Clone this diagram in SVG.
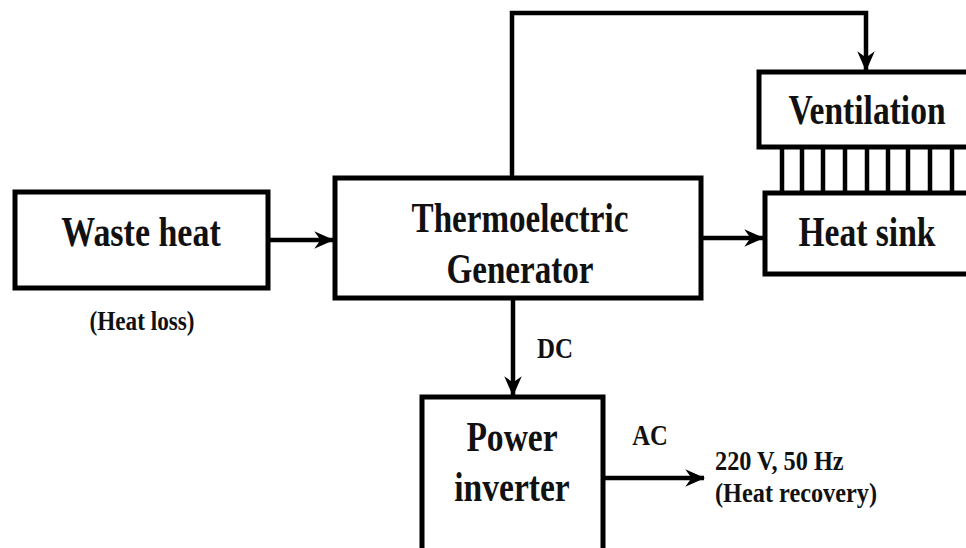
<svg xmlns="http://www.w3.org/2000/svg" width="966" height="548" viewBox="0 0 966 548">
<style>
.box{fill:#fff;stroke:#000;stroke-width:5}
.ln{fill:none;stroke:#000;stroke-width:4.5}
.fin{stroke:#000;stroke-width:4.5}
.t{font-family:"Liberation Serif","Times New Roman",serif;font-weight:bold;fill:#111;text-anchor:middle}
.big{font-size:43px}
.mid{font-size:29px}
.sm{font-size:27px}
</style>
<defs>
<marker id="ah" viewBox="0 0 16 16" refX="15" refY="8" markerWidth="20" markerHeight="20" markerUnits="userSpaceOnUse" orient="auto">
<path d="M0,1 L16,8 L0,15 L5,8 Z" fill="#000"/>
</marker>
</defs>
<rect width="966" height="548" fill="#fff"/>
<g id="connectors">
<path class="ln" d="M268,240 H333" marker-end="url(#ah)"/>
<path class="ln" d="M512,178 V13 H866 V70" marker-end="url(#ah)"/>
<path class="ln" d="M701,238 H763" marker-end="url(#ah)"/>
<path class="ln" d="M513,298 V395" marker-end="url(#ah)"/>
<path class="ln" d="M603,478 H704" marker-end="url(#ah)"/>
</g>
<g id="waste-heat">
<rect class="box" x="15" y="192" width="253" height="96"/>
<text class="t big" transform="translate(141,246) scale(0.79,1)">Waste heat</text>
<text class="t sm" transform="translate(142,330) scale(0.86,1)">(Heat loss)</text>
</g>
<g id="teg">
<rect class="box" x="335" y="178" width="366" height="120"/>
<text class="t big" transform="translate(520,232) scale(0.77,1)">Thermoelectric</text>
<text class="t big" transform="translate(520,283) scale(0.77,1)">Generator</text>
</g>
<g id="ventilation">
<rect class="box" x="759" y="72" width="215" height="75"/>
<text class="t big" transform="translate(867,124) scale(0.78,1)">Ventilation</text>
</g>
<g id="fins">
<line class="fin" x1="782" y1="147" x2="782" y2="193"/>
<line class="fin" x1="802" y1="147" x2="802" y2="193"/>
<line class="fin" x1="823" y1="147" x2="823" y2="193"/>
<line class="fin" x1="845" y1="147" x2="845" y2="193"/>
<line class="fin" x1="867" y1="147" x2="867" y2="193"/>
<line class="fin" x1="888" y1="147" x2="888" y2="193"/>
<line class="fin" x1="908" y1="147" x2="908" y2="193"/>
<line class="fin" x1="930" y1="147" x2="930" y2="193"/>
<line class="fin" x1="952" y1="147" x2="952" y2="193"/>
</g>
<g id="heat-sink">
<rect class="box" x="765" y="193" width="210" height="81"/>
<text class="t big" transform="translate(867,246) scale(0.78,1)">Heat sink</text>
</g>
<g id="dc-label">
<text class="t mid" transform="translate(555,358) scale(0.86,1)">DC</text>
</g>
<g id="power-inverter">
<rect class="box" x="422" y="397" width="181" height="160"/>
<text class="t big" transform="translate(512,451) scale(0.78,1)">Power</text>
<text class="t big" transform="translate(512,501) scale(0.78,1)">inverter</text>
</g>
<g id="ac-label">
<text class="t mid" transform="translate(650,445) scale(0.85,1)">AC</text>
</g>
<g id="output">
<text class="t sm" style="text-anchor:start" transform="translate(715,470) scale(0.9,1)">220 V, 50 Hz</text>
<text class="t sm" style="text-anchor:start" transform="translate(715,502) scale(0.9,1)">(Heat recovery)</text>
</g>
</svg>
